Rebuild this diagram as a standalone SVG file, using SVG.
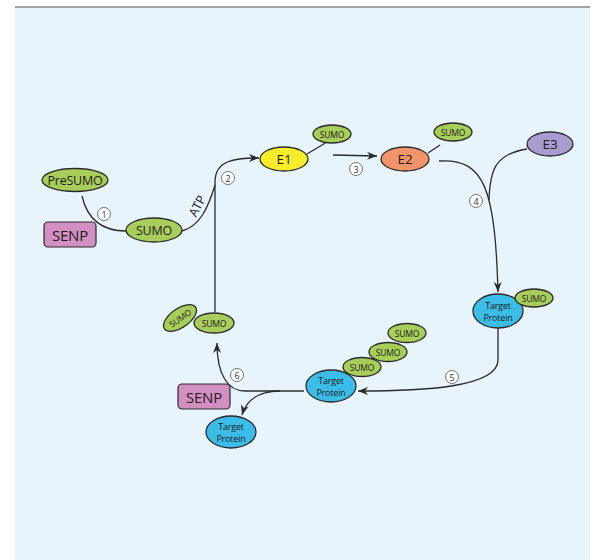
<svg xmlns="http://www.w3.org/2000/svg" width="597" height="560" viewBox="0 0 597 560">
<style>
.ln{fill:none;stroke:#2b2b2b;stroke-width:1.3}
.g{fill:#a8cd5b;stroke:#2b2b2b;stroke-width:1.3}
.tp{fill:#3cbde8;stroke:#2b2b2b;stroke-width:1.3}
.t{font-family:"Open Sans","Liberation Sans",sans-serif;fill:#1e1e1e;text-anchor:middle;dominant-baseline:central;letter-spacing:-0.2px}
.num{fill:#fff;stroke:#555;stroke-width:0.8}
.nt{font-family:"Open Sans","Liberation Sans",sans-serif;font-size:9px;fill:#333;text-anchor:middle;dominant-baseline:central}
</style>
<defs>
<marker id="ah" viewBox="0 0 10 10" refX="10" refY="5" markerWidth="10" markerHeight="10" markerUnits="userSpaceOnUse" orient="auto">
<path d="M0,1 L10,5 L0,9 L3,5 Z" fill="#2b2b2b"/>
</marker>
</defs>
<rect x="15" y="8" width="575" height="552" fill="#e8f4fb"/>
<rect x="15" y="6" width="575" height="2" fill="#a3a3a3"/>
<g id="connectors">
<path class="ln" d="M82,196 C88,222 105,231 126,231"/>
<path class="ln" d="M182,231 C200,226 208,208 215,185"/>
<path class="ln" d="M215,312 L215,182 C215,160 235,158 259,158" marker-end="url(#ah)"/>
<path class="ln" d="M307,154 L327,142"/>
<path class="ln" d="M333,155 L377,156" marker-end="url(#ah)"/>
<path class="ln" d="M428,153 L440,145"/>
<path class="ln" d="M439,161 C485,158 495,190 498,292" marker-end="url(#ah)"/>
<path class="ln" d="M527,149 C495,154 490,170 489,200"/>
<path class="ln" d="M498,328 L498,360 C498,388 420,391 358,391" marker-end="url(#ah)"/>
<path class="ln" d="M304,391 L245,391 C228,391 217,375 217,343" marker-end="url(#ah)"/>
<path class="ln" d="M280,391 C262,391 247,398 242,415" marker-end="url(#ah)"/>
</g>
<g id="n1"><circle class="num" cx="104" cy="214" r="6.5"/><text class="nt" x="104" y="214">1</text></g>
<g id="n2"><circle class="num" cx="228" cy="178" r="6.5"/><text class="nt" x="228" y="178">2</text></g>
<g id="n3"><circle class="num" cx="356" cy="169" r="6.5"/><text class="nt" x="356" y="169">3</text></g>
<g id="n4"><circle class="num" cx="476" cy="201" r="6.5"/><text class="nt" x="476" y="201">4</text></g>
<g id="n5"><circle class="num" cx="452" cy="377" r="6.5"/><text class="nt" x="452" y="377">5</text></g>
<g id="n6"><circle class="num" cx="237" cy="375" r="6.5"/><text class="nt" x="237" y="375">6</text></g>
<g id="atp"><text class="t" x="197" y="206" font-size="12.5" transform="rotate(-62 197 206)">ATP</text></g>
<g id="presumo"><ellipse class="g" cx="75" cy="180" rx="33" ry="11.5"/><text class="t" x="75" y="180" font-size="12.5">PreSUMO</text></g>
<g id="senp1"><rect x="44" y="222" width="52" height="25" rx="4" fill="#d28fc2" stroke="#2b2b2b" stroke-width="1.2"/><text class="t" x="70" y="234.5" font-size="15">SENP</text></g>
<g id="sumo-main"><ellipse class="g" cx="154" cy="230" rx="28" ry="12"/><text class="t" x="154" y="230" font-size="12.5">SUMO</text></g>
<g id="e1"><ellipse cx="284" cy="159" rx="24" ry="12" fill="#f7ec2a" stroke="#2b2b2b" stroke-width="1.3"/><text class="t" x="284" y="159" font-size="13.5">E1</text></g>
<g id="sumo-e1"><ellipse class="g" cx="332" cy="134" rx="19" ry="9"/><text class="t" x="332" y="134" font-size="8.5">SUMO</text></g>
<g id="e2"><ellipse cx="405" cy="159" rx="24" ry="12" fill="#f2946a" stroke="#2b2b2b" stroke-width="1.3"/><text class="t" x="405" y="159" font-size="13.5">E2</text></g>
<g id="sumo-e2"><ellipse class="g" cx="453" cy="132" rx="19" ry="9"/><text class="t" x="453" y="132" font-size="8.5">SUMO</text></g>
<g id="e3"><ellipse cx="550" cy="144" rx="23" ry="12" fill="#a99ad0" stroke="#2b2b2b" stroke-width="1.3"/><text class="t" x="550" y="144" font-size="13.5">E3</text></g>
<g id="target1"><ellipse class="tp" cx="498" cy="311" rx="25" ry="17"/><text class="t" x="498" y="305" font-size="9">Target</text><text class="t" x="498" y="317" font-size="9">Protein</text></g>
<g id="sumo-t1"><ellipse class="g" cx="534" cy="298" rx="19" ry="9"/><text class="t" x="534" y="298" font-size="8.5">SUMO</text></g>
<g id="sumo-c3"><ellipse class="g" cx="407" cy="333" rx="19" ry="9.5"/><text class="t" x="407" y="333" font-size="8.5">SUMO</text></g>
<g id="sumo-c2"><ellipse class="g" cx="388" cy="352" rx="19" ry="9.5"/><text class="t" x="388" y="352" font-size="8.5">SUMO</text></g>
<g id="sumo-c1"><ellipse class="g" cx="362" cy="367" rx="19" ry="9.5"/><text class="t" x="362" y="367" font-size="8.5">SUMO</text></g>
<g id="target2"><ellipse class="tp" cx="331" cy="386" rx="25" ry="16"/><text class="t" x="331" y="380" font-size="9">Target</text><text class="t" x="331" y="392" font-size="9">Protein</text></g>
<g id="sumo-free1"><ellipse class="g" cx="180" cy="318" rx="19" ry="9.5" transform="rotate(-35 180 318)"/><text class="t" x="180" y="318" font-size="8.5" transform="rotate(-35 180 318)">SUMO</text></g>
<g id="sumo-free2"><ellipse class="g" cx="214" cy="323" rx="20" ry="10"/><text class="t" x="214" y="323" font-size="8.5">SUMO</text></g>
<g id="senp2"><rect x="178" y="384" width="52" height="25" rx="4" fill="#d28fc2" stroke="#2b2b2b" stroke-width="1.2"/><text class="t" x="204" y="396.5" font-size="15">SENP</text></g>
<g id="target3"><ellipse class="tp" cx="231" cy="432" rx="25" ry="16"/><text class="t" x="231" y="426" font-size="9">Target</text><text class="t" x="231" y="438" font-size="9">Protein</text></g>
</svg>
